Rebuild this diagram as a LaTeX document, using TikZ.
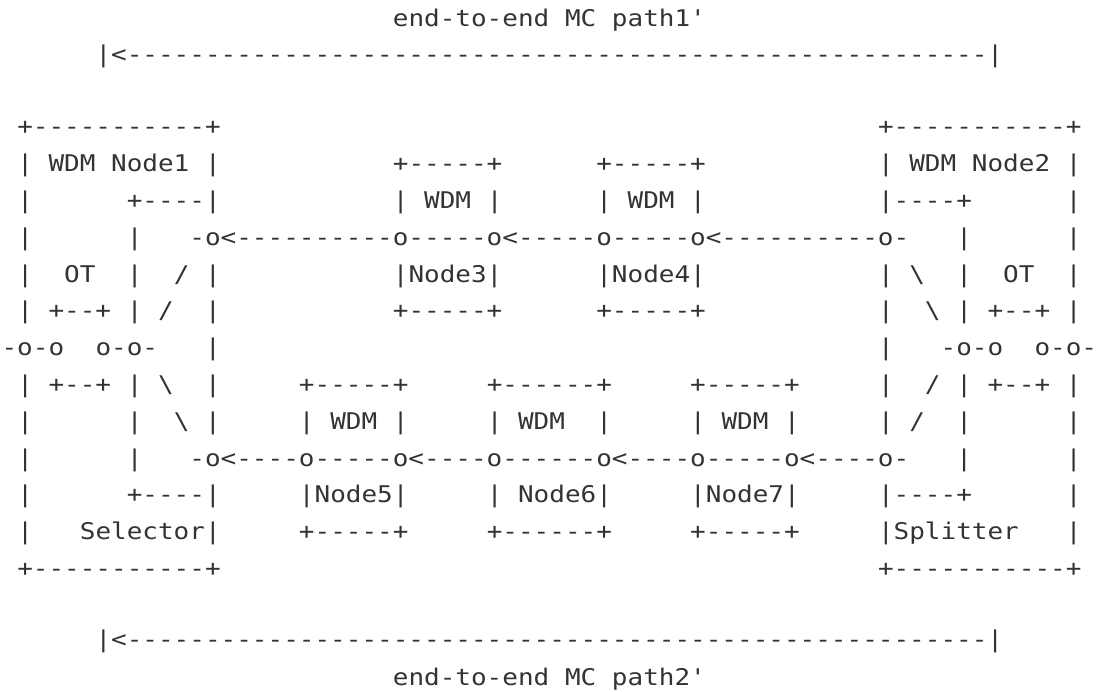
\documentclass[tikz,border=0pt]{standalone}
\usepackage{fontspec}
\setmonofont{DejaVu Sans Mono}[FakeStretch=1.1302]
\definecolor{ink}{HTML}{333333}

% a run of n hyphens
\ExplSyntaxOn
\cs_new:Npn \asciidash #1 { \prg_replicate:nn {#1} {-} }
\ExplSyntaxOff

\tikzset{
  ascii/.style={font=\fontsize{23}{23}\selectfont\ttfamily, text=ink,
    inner sep=0pt, outer sep=0pt, anchor=base west},
}

\begin{document}
\begin{tikzpicture}
\useasboundingbox (0pt,0pt) rectangle (1097pt,-691pt);
% x counts character columns, y is the baseline depth in pt
\begin{scope}[x=15.65pt, y=-1pt, shift={(1.6pt,0pt)}]

% upper path label
\node[ascii] (r0c25) at (25,26.7) {end-to-end};
\node[ascii] (r0c36) at (36,26.7) {MC};
\node[ascii] (r0c39) at (39,26.7) {path1'};
\node[ascii] (r1c6) at (6,62.5) {|<\asciidash{55}|};

% box tops
\node[ascii] (r3c1) at (1,134.9) {+\asciidash{11}+};
\node[ascii] (r3c56) at (56,134.9) {+\asciidash{11}+};

\node[ascii] (r4c1) at (1,171.7) {|};
\node[ascii] (r4c3) at (3,171.7) {WDM};
\node[ascii] (r4c7) at (7,171.7) {Node1};
\node[ascii] (r4c13) at (13,171.7) {|};
\node[ascii] (r4c25) at (25,171.7) {+\asciidash{5}+};
\node[ascii] (r4c38) at (38,171.7) {+\asciidash{5}+};
\node[ascii] (r4c56) at (56,171.7) {|};
\node[ascii] (r4c58) at (58,171.7) {WDM};
\node[ascii] (r4c62) at (62,171.7) {Node2};
\node[ascii] (r4c68) at (68,171.7) {|};

\node[ascii] (r5c1) at (1,208.5) {|};
\node[ascii] (r5c8) at (8,208.5) {+----|};
\node[ascii] (r5c25) at (25,208.5) {|};
\node[ascii] (r5c27) at (27,208.5) {WDM};
\node[ascii] (r5c31) at (31,208.5) {|};
\node[ascii] (r5c38) at (38,208.5) {|};
\node[ascii] (r5c40) at (40,208.5) {WDM};
\node[ascii] (r5c44) at (44,208.5) {|};
\node[ascii] (r5c56) at (56,208.5) {|----+};
\node[ascii] (r5c68) at (68,208.5) {|};

% upper path
\node[ascii] (r6c1) at (1,245.3) {|};
\node[ascii] (r6c8) at (8,245.3) {|};
\node[ascii] (r6c12) at (12,245.3)
  {-o<\asciidash{10}o\asciidash{5}o<\asciidash{5}o\asciidash{5}o<\asciidash{10}o-};
\node[ascii] (r6c61) at (61,245.3) {|};
\node[ascii] (r6c68) at (68,245.3) {|};

\node[ascii] (r7c1) at (1,282.1) {|};
\node[ascii] (r7c4) at (4,282.1) {OT};
\node[ascii] (r7c8) at (8,282.1) {|};
\node[ascii] (r7c11) at (11,282.1) {/};
\node[ascii] (r7c13) at (13,282.1) {|};
\node[ascii] (r7c25) at (25,282.1) {|Node3|};
\node[ascii] (r7c38) at (38,282.1) {|Node4|};
\node[ascii] (r7c56) at (56,282.1) {|};
\node[ascii] (r7c58) at (58,282.1) {\textbackslash};
\node[ascii] (r7c61) at (61,282.1) {|};
\node[ascii] (r7c64) at (64,282.1) {OT};
\node[ascii] (r7c68) at (68,282.1) {|};

\node[ascii] (r8c1) at (1,318.9) {|};
\node[ascii] (r8c3) at (3,318.9) {+--+};
\node[ascii] (r8c8) at (8,318.9) {|};
\node[ascii] (r8c10) at (10,318.9) {/};
\node[ascii] (r8c13) at (13,318.9) {|};
\node[ascii] (r8c25) at (25,318.9) {+\asciidash{5}+};
\node[ascii] (r8c38) at (38,318.9) {+\asciidash{5}+};
\node[ascii] (r8c56) at (56,318.9) {|};
\node[ascii] (r8c59) at (59,318.9) {\textbackslash};
\node[ascii] (r8c61) at (61,318.9) {|};
\node[ascii] (r8c63) at (63,318.9) {+--+};
\node[ascii] (r8c68) at (68,318.9) {|};

% transponder ports
\node[ascii] (r9c0) at (0,355.7) {-o-o};
\node[ascii] (r9c6) at (6,355.7) {o-o-};
\node[ascii] (r9c13) at (13,355.7) {|};
\node[ascii] (r9c56) at (56,355.7) {|};
\node[ascii] (r9c60) at (60,355.7) {-o-o};
\node[ascii] (r9c66) at (66,355.7) {o-o-};

\node[ascii] (r10c1) at (1,392.5) {|};
\node[ascii] (r10c3) at (3,392.5) {+--+};
\node[ascii] (r10c8) at (8,392.5) {|};
\node[ascii] (r10c10) at (10,392.5) {\textbackslash};
\node[ascii] (r10c13) at (13,392.5) {|};
\node[ascii] (r10c19) at (19,392.5) {+\asciidash{5}+};
\node[ascii] (r10c31) at (31,392.5) {+\asciidash{6}+};
\node[ascii] (r10c44) at (44,392.5) {+\asciidash{5}+};
\node[ascii] (r10c56) at (56,392.5) {|};
\node[ascii] (r10c59) at (59,392.5) {/};
\node[ascii] (r10c61) at (61,392.5) {|};
\node[ascii] (r10c63) at (63,392.5) {+--+};
\node[ascii] (r10c68) at (68,392.5) {|};

\node[ascii] (r11c1) at (1,429.3) {|};
\node[ascii] (r11c8) at (8,429.3) {|};
\node[ascii] (r11c11) at (11,429.3) {\textbackslash};
\node[ascii] (r11c13) at (13,429.3) {|};
\node[ascii] (r11c19) at (19,429.3) {|};
\node[ascii] (r11c21) at (21,429.3) {WDM};
\node[ascii] (r11c25) at (25,429.3) {|};
\node[ascii] (r11c31) at (31,429.3) {|};
\node[ascii] (r11c33) at (33,429.3) {WDM};
\node[ascii] (r11c38) at (38,429.3) {|};
\node[ascii] (r11c44) at (44,429.3) {|};
\node[ascii] (r11c46) at (46,429.3) {WDM};
\node[ascii] (r11c50) at (50,429.3) {|};
\node[ascii] (r11c56) at (56,429.3) {|};
\node[ascii] (r11c58) at (58,429.3) {/};
\node[ascii] (r11c61) at (61,429.3) {|};
\node[ascii] (r11c68) at (68,429.3) {|};

% lower path
\node[ascii] (r12c1) at (1,466.1) {|};
\node[ascii] (r12c8) at (8,466.1) {|};
\node[ascii] (r12c12) at (12,466.1)
  {-o<\asciidash{4}o\asciidash{5}o<\asciidash{4}o\asciidash{6}o<\asciidash{4}o\asciidash{5}o<\asciidash{4}o-};
\node[ascii] (r12c61) at (61,466.1) {|};
\node[ascii] (r12c68) at (68,466.1) {|};

\node[ascii] (r13c1) at (1,502.9) {|};
\node[ascii] (r13c8) at (8,502.9) {+----|};
\node[ascii] (r13c19) at (19,502.9) {|Node5|};
\node[ascii] (r13c31) at (31,502.9) {|};
\node[ascii] (r13c33) at (33,502.9) {Node6|};
\node[ascii] (r13c44) at (44,502.9) {|Node7|};
\node[ascii] (r13c56) at (56,502.9) {|----+};
\node[ascii] (r13c68) at (68,502.9) {|};

\node[ascii] (r14c1) at (1,539.7) {|};
\node[ascii] (r14c5) at (5,539.7) {Selector|};
\node[ascii] (r14c19) at (19,539.7) {+\asciidash{5}+};
\node[ascii] (r14c31) at (31,539.7) {+\asciidash{6}+};
\node[ascii] (r14c44) at (44,539.7) {+\asciidash{5}+};
\node[ascii] (r14c56) at (56,539.7) {|Splitter};
\node[ascii] (r14c68) at (68,539.7) {|};

% box bottoms
\node[ascii] (r15c1) at (1,576.5) {+\asciidash{11}+};
\node[ascii] (r15c56) at (56,576.5) {+\asciidash{11}+};

% lower path label
\node[ascii] (r17c6) at (6,647.7) {|<\asciidash{55}|};
\node[ascii] (r18c25) at (25,685) {end-to-end};
\node[ascii] (r18c36) at (36,685) {MC};
\node[ascii] (r18c39) at (39,685) {path2'};

\end{scope}
\end{tikzpicture}
\end{document}
